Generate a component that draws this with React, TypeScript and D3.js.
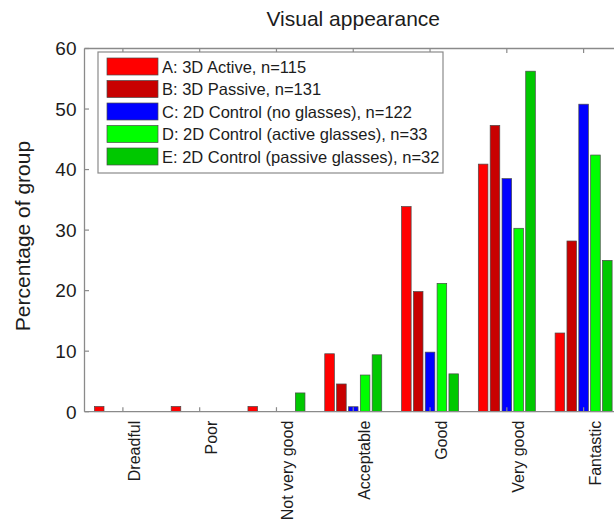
import React from "react";
import * as d3 from "d3";

const title = "Visual appearance";
const yLabel = "Percentage of group";
const categories = ["Dreadful", "Poor", "Not very good", "Acceptable", "Good", "Very good", "Fantastic"];
const seriesKeys = ["A", "B", "C", "D", "E"];
const seriesNames = [
  "A: 3D Active, n=115",
  "B: 3D Passive, n=131",
  "C: 2D Control (no glasses), n=122",
  "D: 2D Control (active glasses), n=33",
  "E: 2D Control (passive glasses), n=32",
];
const seriesColors = ["#ff0000", "#c80000", "#0000ff", "#00ff00", "#00c800"];
const valuesA = [0.87, 0.87, 0.87, 9.57, 33.9, 40.9, 13.0];
const valuesB = [0, 0, 0, 4.58, 19.85, 47.3, 28.2];
const valuesC = [0, 0, 0, 0.82, 9.84, 38.5, 50.8];
const valuesD = [0, 0, 0, 6.06, 21.2, 30.3, 42.4];
const valuesE = [0, 0, 3.1, 9.4, 6.25, 56.25, 25.0];
const seriesValues = [valuesA, valuesB, valuesC, valuesD, valuesE];
const yTicks = [0, 10, 20, 30, 40, 50, 60];

const W = 614;
const H = 521;
const left = 84.5;
const right = 622;
const top = 48.5;
const bottom = 411.7;
const FONT = "'Liberation Sans', Arial, Helvetica, sans-serif";
const AXIS = "#8a8a8a";
const TEXT = "#1c1c1c";

export default function App() {
  const x = d3.scaleBand<string>().domain(categories).range([left, right]).padding(0);
  const groupW = 57;
  const xs = d3.scaleBand<string>().domain(seriesKeys).range([0, groupW]).paddingInner(0.19).paddingOuter(0);
  const y = d3.scaleLinear().domain([0, 60]).range([bottom, top]);

  const legX = 98, legY = 52, legW = 345, legH = 121;
  const rowStep = 22.5;

  return (
    <svg width={W} height={H} style={{ position: "absolute", left: 0, top: 0, display: "block", background: "#fff" }} fontFamily={FONT}>
      <text x={(left + right) / 2} y={26} textAnchor="middle" fontSize={21} fill={TEXT}>{title}</text>
      {/* bars */}
      {seriesValues.map((vals, si) =>
        vals.map((v, ci) => {
          if (v <= 0) return null;
          const cx = (x(categories[ci]) as number) + x.bandwidth() / 2;
          const bx = cx - groupW / 2 + (xs(seriesKeys[si]) as number);
          return (
            <rect key={`${si}-${ci}`} x={bx} y={y(v)} width={xs.bandwidth()} height={y(0) - y(v)}
              fill={seriesColors[si]} stroke="#4a4a4a" strokeWidth={0.7} />
          );
        })
      )}
      {/* axes box */}
      <line x1={left} x2={left} y1={top} y2={bottom} stroke={AXIS} strokeWidth={1.3} />
      <line x1={left} x2={right} y1={top} y2={top} stroke={AXIS} strokeWidth={1.3} />
      <line x1={left} x2={right} y1={bottom} y2={bottom} stroke={AXIS} strokeWidth={1.3} />
      <line x1={right} x2={right} y1={top} y2={bottom} stroke={AXIS} strokeWidth={1.3} />
      {/* y ticks */}
      {yTicks.map((t) => (
        <g key={t}>
          <line x1={left} x2={left + 4.5} y1={y(t)} y2={y(t)} stroke={AXIS} strokeWidth={1.2} />
          <text x={left - 8} y={y(t)} dy="0.36em" textAnchor="end" fontSize={19} fill={TEXT}>{t}</text>
        </g>
      ))}
      {/* x ticks and labels */}
      {categories.map((c) => {
        const cx = (x(c) as number) + x.bandwidth() / 2;
        return (
          <g key={c}>
            <line x1={cx} x2={cx} y1={bottom} y2={bottom - 4.5} stroke={AXIS} strokeWidth={1.2} />
            <line x1={cx} x2={cx} y1={top} y2={top + 4.5} stroke={AXIS} strokeWidth={1.2} />
            <text transform={`translate(${cx + 17},${bottom + 9}) rotate(-90)`} textAnchor="end" fontSize={16} fill={TEXT}>{c}</text>
          </g>
        );
      })}
      <text transform={`translate(30,236) rotate(-90)`} textAnchor="middle" fontSize={21} fill={TEXT}>{yLabel}</text>
      {/* legend */}
      <rect x={legX} y={legY} width={legW} height={legH} fill="#fff" stroke={AXIS} strokeWidth={1.2} />
      {seriesNames.map((n, i) => (
        <g key={n}>
          <rect x={107} y={58 + i * rowStep} width={51} height={17} fill={seriesColors[i]} stroke="#4a4a4a" strokeWidth={0.7} />
          <text x={162} y={72.5 + i * rowStep} fontSize={16.5} fill={TEXT}>{n}</text>
        </g>
      ))}
    </svg>
  );
}
